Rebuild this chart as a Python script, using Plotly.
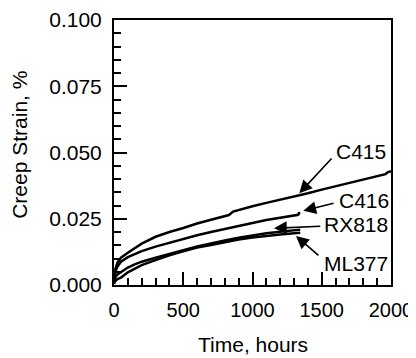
import plotly.graph_objects as go

# ---- data ----
hours_c415 = [0, 10, 25, 50, 100, 150, 200, 300, 400, 500, 600, 700, 800, 830, 860, 900,
              1000, 1100, 1200, 1300, 1400, 1500, 1600, 1700, 1800, 1900, 1960, 1975, 2000]
strain_c415 = [0.002, 0.006, 0.0085, 0.0103, 0.0122, 0.0140, 0.0156, 0.0182, 0.0200, 0.0215,
               0.0232, 0.0246, 0.0259, 0.0264, 0.0277, 0.0283, 0.0297, 0.0310, 0.0322, 0.0333,
               0.0346, 0.0360, 0.0373, 0.0385, 0.0397, 0.0410, 0.0418, 0.0425, 0.0430]

hours_c416 = [0, 10, 25, 50, 100, 150, 200, 300, 400, 500, 600, 700, 800, 900, 1000,
              1100, 1200, 1300, 1330, 1335, 1345]
strain_c416 = [0.002, 0.005, 0.007, 0.0088, 0.0105, 0.0118, 0.0128, 0.0145, 0.0160, 0.0174,
               0.0188, 0.0200, 0.0212, 0.0224, 0.0234, 0.0245, 0.0254, 0.0262, 0.0265,
               0.0271, 0.0272]

hours_low = [0, 10, 25, 50, 100, 150, 200, 300, 400, 500, 600, 700, 800, 900, 1000,
             1100, 1200, 1300, 1345]
strain_rx818 = [0.001, 0.003, 0.0040, 0.0048, 0.0066, 0.0078, 0.0088, 0.0103, 0.0118, 0.0131,
                0.0145, 0.0157, 0.0168, 0.0178, 0.0187, 0.0195, 0.0201, 0.0206, 0.0209]
strain_ml377 = [0.0005, 0.0015, 0.0022, 0.0028, 0.0048, 0.0063, 0.0075, 0.0094, 0.0112, 0.0127,
                0.0141, 0.0151, 0.0162, 0.0172, 0.0179, 0.0186, 0.0191, 0.0195, 0.0197]

x_ticks = [0, 500, 1000, 1500, 2000]
y_ticks = [0.000, 0.025, 0.050, 0.075, 0.100]
y_tick_text = ["0.000", "0.025", "0.050", "0.075", "0.100"]

# label text position (x, y), arrow tail (x, y), arrow tip (x, y)
labels = ["C415", "C416", "RX818", "ML377"]
label_x = [1596, 1617, 1507, 1507]
label_y = [0.0503, 0.0318, 0.0228, 0.0082]
tail_x = [1581, 1596, 1500, 1487]
tail_y = [0.0483, 0.0310, 0.0222, 0.0107]
tip_x = [1338, 1367, 1155, 1314]
tip_y = [0.0346, 0.0280, 0.0214, 0.0185]

FONT = "Liberation Sans, Arial, Helvetica, sans-serif"

fig = go.Figure()
for hx, sy in [(hours_c415, strain_c415), (hours_c416, strain_c416),
               (hours_low, strain_rx818), (hours_low, strain_ml377)]:
    fig.add_trace(go.Scatter(x=hx, y=sy, mode="lines",
                             line=dict(color="black", width=2.5), showlegend=False,
                             hoverinfo="skip"))

annotations = []
for t, lx, ly, ax_, ay_, px_, py_ in zip(labels, label_x, label_y, tail_x, tail_y, tip_x, tip_y):
    annotations.append(dict(x=lx, y=ly, xref="x", yref="y", text=t, showarrow=False,
                            xanchor="left", yanchor="middle", borderpad=0,
                            font=dict(family=FONT, size=21, color="black")))
    annotations.append(dict(x=px_, y=py_, xref="x", yref="y", ax=ax_, ay=ay_,
                            axref="x", ayref="y", text="", showarrow=True,
                            arrowhead=2, arrowsize=1.6, arrowwidth=1.6, arrowcolor="black"))

annotations.append(dict(x=0.5, y=-0.226, xref="paper", yref="paper", text="Time, hours",
                        showarrow=False, xanchor="center", yanchor="middle",
                        font=dict(family=FONT, size=21, color="black")))
annotations.append(dict(x=-0.342, y=0.53, xref="paper", yref="paper", text="Creep Strain, %",
                        showarrow=False, xanchor="center", yanchor="middle", textangle=-90,
                        font=dict(family=FONT, size=21, color="black")))

# The page adds an 8px body margin, so margins are offset by 8px.
fig.update_layout(
    width=416, height=358,
    margin=dict(l=106, r=33, t=12, b=81),
    paper_bgcolor="white", plot_bgcolor="white",
    font=dict(family=FONT, size=20, color="black"),
    annotations=annotations,
    xaxis=dict(range=[0, 2000], tickvals=x_ticks, ticks="inside", ticklen=13, tickwidth=1.5,
               tickcolor="black", showline=True, linecolor="black", linewidth=2, mirror=True,
               showgrid=False, zeroline=False, ticklabelstandoff=6, automargin=False,
               tickfont=dict(size=20),
               minor=dict(ticks="inside", ticklen=7, tickwidth=1.5, dtick=100,
                          tickcolor="black", showgrid=False)),
    yaxis=dict(range=[0, 0.1], tickvals=y_ticks, ticktext=y_tick_text, ticks="inside",
               ticklen=13, tickwidth=1.5, tickcolor="black", showline=True, linecolor="black",
               linewidth=2, mirror=True, showgrid=False, zeroline=False, ticklabelstandoff=6,
               automargin=False, tickfont=dict(size=21),
               minor=dict(ticks="inside", ticklen=7, tickwidth=1.5, dtick=0.005,
                          tickcolor="black", showgrid=False)),
)

fig.write_html("out.html")
